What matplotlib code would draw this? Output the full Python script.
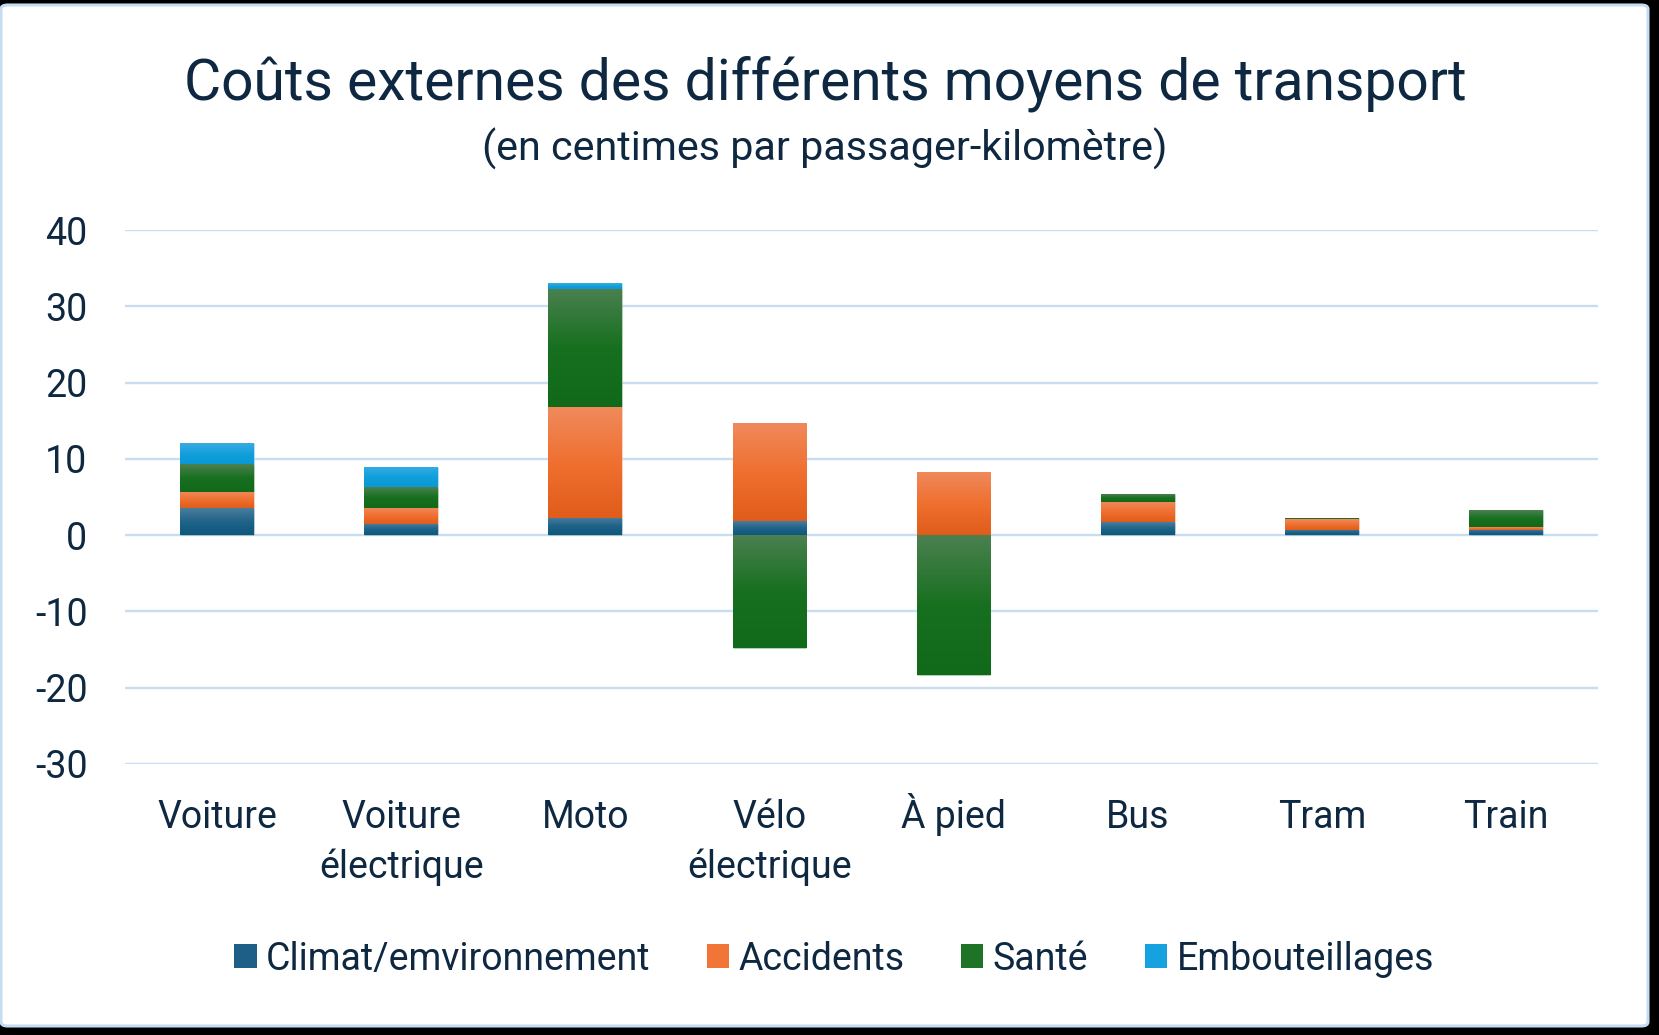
import numpy as np
import matplotlib
matplotlib.use("Agg")
import matplotlib.pyplot as plt
from matplotlib.patches import FancyBboxPatch, Patch
from matplotlib.colors import LinearSegmentedColormap

# ---- data ----
categories = ["Voiture", "Voiture\nélectrique", "Moto", "Vélo\nélectrique",
              "À pied", "Bus", "Tram", "Train"]
series_names = ["Climat/emvironnement", "Accidents", "Santé", "Embouteillages"]
climat = [3.5, 1.5, 2.3, 1.8, 0.0, 1.7, 0.7, 0.7]
accidents = [2.2, 2.1, 14.5, 12.9, 8.3, 2.7, 1.4, 0.35]
sante = [3.6, 2.7, 15.5, -14.8, -18.3, 1.0, 0.1, 2.2]
embouteillages = [2.75, 2.65, 0.7, 0.0, 0.0, 0.0, 0.0, 0.0]
yticks = [-30, -20, -10, 0, 10, 20, 30, 40]

# gradient colours (top, middle, bottom)
grads = [
    ("#4b7d9d", "#1f6389", "#0f577c"),
    ("#ef8a5c", "#f07030", "#e05c1a"),
    ("#4b8050", "#17701f", "#11691a"),
    ("#3aabe2", "#12a0dc", "#0a98d6"),
]
legend_colors = ["#1d5f86", "#f07536", "#1e7326", "#16a2de"]

TXT = "#0e2841"
plt.rcParams['font.family'] = ['Roboto', 'DejaVu Sans']

W, H = 1659, 1035
fig = plt.figure(figsize=(W / 100, H / 100), dpi=100, facecolor="black")

# white panel with light-blue border
panel = FancyBboxPatch((1 / W, 9 / H), 1647 / W, 1021 / H,
                       boxstyle="round,pad=0,rounding_size=0.004",
                       transform=fig.transFigure, facecolor="white",
                       edgecolor="#c5dcf2", linewidth=2.2, zorder=-5)
fig.patches.append(panel)

AX_H = 534
ax = fig.add_axes([125 / W, 271 / H, 1473 / W, AX_H / H])
ax.set_zorder(3)
ax.set_facecolor("none")
for s in ax.spines.values():
    s.set_visible(False)
ax.set_yticks(yticks)
ax.set_yticklabels([str(t) for t in yticks])
ax.yaxis.grid(True, color="#c9ddf1", linewidth=1.7, zorder=0)
ax.set_axisbelow(True)
ax.tick_params(axis="y", length=0, pad=27, labelsize=27, labelcolor=TXT)
x = np.arange(len(categories))
ax.set_xticks(x)
ax.set_xticklabels([])
ax.tick_params(axis="x", length=0)
xtrans = ax.get_xaxis_transform()
for xi, lab in zip(x, categories):
    for i, line in enumerate(lab.split("\n")):
        ax.text(xi, -(64.5 + 49.5 * i) / AX_H, line, transform=xtrans,
                ha="center", va="baseline", fontsize=27, color=TXT)

series = [climat, accidents, sante, embouteillages]
pos = np.zeros(len(categories))
neg = np.zeros(len(categories))
width = 0.40
grad_img = np.linspace(0, 1, 256).reshape(-1, 1)
for vals, (ct, cm, cb) in zip(series, grads):
    vals = np.asarray(vals, dtype=float)
    bottoms = np.where(vals >= 0, pos, neg)
    bars = ax.bar(x, vals, width, bottom=bottoms, color=cm,
                  edgecolor=(1, 1, 1, 0.35), linewidth=0.8, zorder=2)
    cmap = LinearSegmentedColormap.from_list("g", [ct, cm, cb])
    for b, v in zip(bars, vals):
        if v == 0:
            b.set_visible(False)
            continue
        x0, y0 = b.get_x(), b.get_y()
        w, h = b.get_width(), b.get_height()
        ylo, yhi = min(y0, y0 + h), max(y0, y0 + h)
        im = ax.imshow(grad_img, cmap=cmap, aspect="auto",
                       extent=(x0, x0 + w, ylo, yhi), origin="upper",
                       zorder=2.5, interpolation="bilinear")
        im.set_clip_path(b)
    pos = np.where(vals >= 0, pos + vals, pos)
    neg = np.where(vals < 0, neg + vals, neg)
ax.set_xlim(-0.5, len(categories) - 0.5)
ax.set_ylim(-30, 40)

# titles
fig.text(825 / W, 1 - 100 / H, "Coûts externes des différents moyens de transport",
         ha="center", va="baseline", fontsize=41, color=TXT)
fig.text(825 / W, 1 - 149 / H, "(en centimes par passager-kilomètre)",
         ha="center", va="center", fontsize=29.7, color=TXT)

handles = [Patch(facecolor=c, edgecolor="none") for c in legend_colors]
fig.legend(handles, series_names, loc="center", bbox_to_anchor=(834 / W, 1 - 959 / H),
           ncol=4, frameon=False, fontsize=27, handlelength=0.6, handleheight=0.6,
           handletextpad=0.25, columnspacing=1.5, labelcolor=TXT)

fig.savefig("out.png", dpi=100, facecolor="black")
